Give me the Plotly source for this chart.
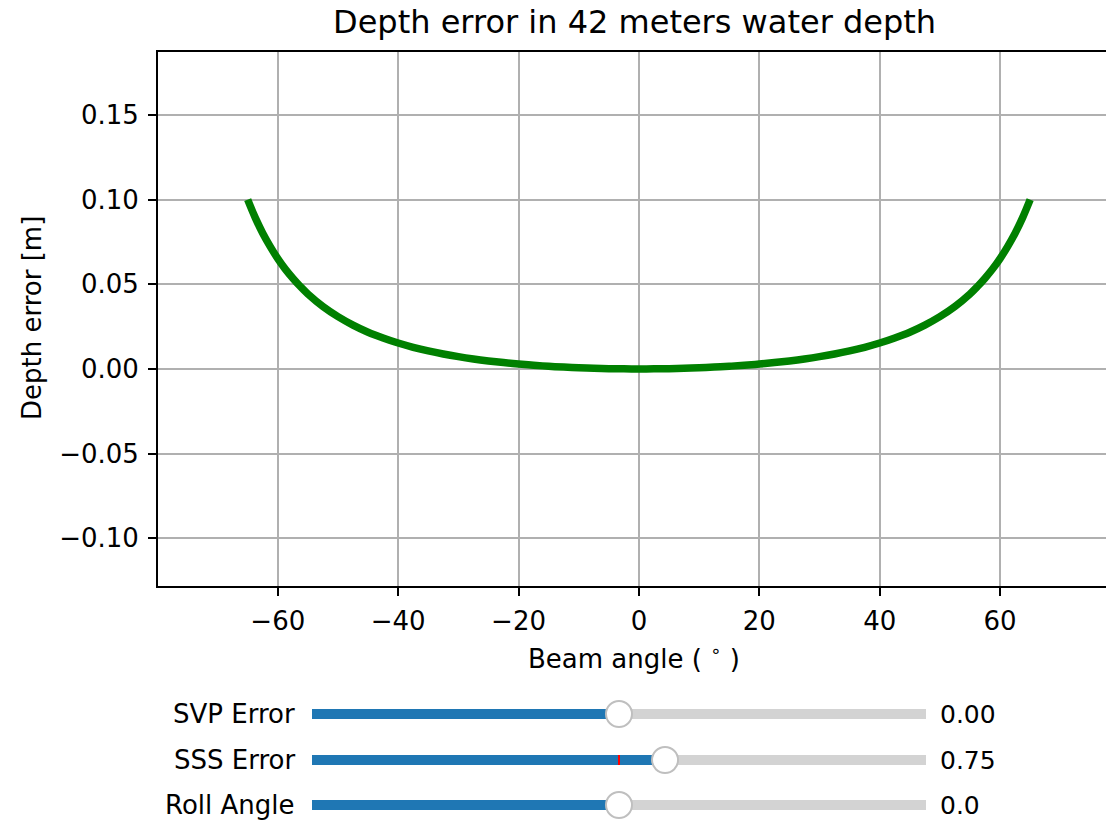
import plotly.graph_objects as go

# ---- data (right half; curve is symmetric about 0) ----
half_angle = [0, 2.5, 5, 7.5, 10, 12.5, 15, 17.5, 20, 22.5, 25, 27.5, 30, 32.5, 35, 37.5,
              40, 42.5, 45, 47.5, 50, 52.5, 55, 56.25, 57.5, 58.75, 60, 61.25, 62.5, 63.75, 65]
half_error = [0.0, 0.00004, 0.00017, 0.00038, 0.00068, 0.00107, 0.00156, 0.00216, 0.00288, 0.00373,
              0.00473, 0.00589, 0.00725, 0.00882, 0.01066, 0.0128, 0.0153, 0.0183, 0.0217, 0.0259,
              0.0309, 0.0369, 0.0443, 0.0487, 0.0536, 0.0590, 0.0652, 0.0723, 0.0802, 0.0894, 0.100]
beam_angle = [-a for a in half_angle[:0:-1]] + half_angle
depth_error = half_error[:0:-1] + half_error

x_tickvals = [-60, -40, -20, 0, 20, 40, 60]
x_ticktext = ["\u221260", "\u221240", "\u221220", "0", "20", "40", "60"]
y_tickvals = [-0.10, -0.05, 0.0, 0.05, 0.10, 0.15]
y_ticktext = ["\u22120.10", "\u22120.05", "0.00", "0.05", "0.10", "0.15"]

title_text = "Depth error in 42 meters water depth"
xlabel_text = "Beam angle ( <sup>\u2218</sup> )"
ylabel_text = "Depth error [m]"

slider_labels = ["SVP Error", "SSS Error", "Roll Angle"]
slider_min = [-5.0, -5.0, -5.0]
slider_max = [5.0, 5.0, 5.0]
slider_value = [0.0, 0.75, 0.0]
slider_init = [0.0, 0.0, 0.0]
slider_text = ["0.00", "0.75", "0.0"]

# ---- layout geometry (pixels) ----
W, H = 1106, 822
FONT = "DejaVu Sans"
ax_left, ax_top, ax_bottom = 158, 52, 586
track_left, track_right = 312, 926
slider_centers = [714, 760, 805]
HALF = 16  # half height (px) of each slider's axis box

def py(p):
    return 1 - p / H

fig = go.Figure()

fig.add_trace(go.Scatter(
    x=beam_angle, y=depth_error, mode="lines",
    line=dict(color="#008000", width=7.5, shape="spline", smoothing=1.0),
    xaxis="x", yaxis="y", showlegend=False, hoverinfo="skip"))

layout = dict(
    width=W, height=H,
    margin=dict(l=0, r=0, t=0, b=0),
    paper_bgcolor="white", plot_bgcolor="white",
    barmode="overlay",
    showlegend=False,
    font=dict(family=FONT, color="black"),
    xaxis=dict(domain=[ax_left / W, 1.0], range=[-79.9, 77.6], anchor="y",
               tickvals=x_tickvals, ticktext=x_ticktext,
               showline=True, linecolor="black", linewidth=1.9, mirror=True,
               ticks="outside", ticklen=8, tickwidth=1.9, tickcolor="black",
               showgrid=True, gridcolor="#b0b0b0", gridwidth=1.9, zeroline=False,
               tickfont=dict(family=FONT, size=26, color="black"), ticklabelstandoff=3),
    yaxis=dict(domain=[py(ax_bottom), py(ax_top)], range=[-0.1283, 0.1873], anchor="x",
               tickvals=y_tickvals, ticktext=y_ticktext,
               showline=True, linecolor="black", linewidth=1.9, mirror=False,
               ticks="outside", ticklen=8, tickwidth=1.9, tickcolor="black",
               showgrid=True, gridcolor="#b0b0b0", gridwidth=1.9, zeroline=False,
               tickfont=dict(family=FONT, size=26, color="black"), ticklabelstandoff=4),
)

annotations = [
    dict(text=title_text, x=634.5 / W, y=py(22), xref="paper", yref="paper",
         xanchor="center", yanchor="middle", showarrow=False,
         font=dict(family=FONT, size=32, color="black")),
    dict(text=xlabel_text, x=634 / W, y=py(657), xref="paper", yref="paper",
         xanchor="center", yanchor="middle", showarrow=False,
         font=dict(family=FONT, size=26, color="black")),
    dict(text=ylabel_text, x=32 / W, y=py(318), xref="paper", yref="paper",
         xanchor="center", yanchor="middle", showarrow=False, textangle=-90,
         font=dict(family=FONT, size=26, color="black")),
]

bar_w = 10 / HALF  # 10 px track thickness in y units (range -1..1 over 2*HALF px)

for i, c in enumerate(slider_centers):
    n = i + 2
    xa, ya = f"x{n}", f"y{n}"
    layout[f"xaxis{n}"] = dict(domain=[track_left / W, track_right / W],
                               range=[slider_min[i], slider_max[i]],
                               anchor=ya, visible=False, fixedrange=True)
    layout[f"yaxis{n}"] = dict(domain=[py(c + HALF), py(c - HALF)], range=[-1, 1],
                               anchor=xa, visible=False, fixedrange=True)
    # track (full range)
    fig.add_trace(go.Bar(orientation="h", y=[0], x=[slider_max[i] - slider_min[i]],
                         base=[slider_min[i]], width=bar_w,
                         marker=dict(color="#d3d3d3", line=dict(width=0)),
                         xaxis=xa, yaxis=ya, hoverinfo="skip"))
    # filled part up to value
    fig.add_trace(go.Bar(orientation="h", y=[0], x=[slider_value[i] - slider_min[i]],
                         base=[slider_min[i]], width=bar_w,
                         marker=dict(color="#1f77b4", line=dict(width=0)),
                         xaxis=xa, yaxis=ya, hoverinfo="skip"))
    # initial value marker
    fig.add_trace(go.Scatter(x=[slider_init[i], slider_init[i]], y=[-bar_w / 2, bar_w / 2],
                             mode="lines", line=dict(color="red", width=2),
                             xaxis=xa, yaxis=ya, hoverinfo="skip"))
    # handle
    fig.add_trace(go.Scatter(x=[slider_value[i]], y=[0], mode="markers",
                             marker=dict(symbol="circle", size=26, color="white",
                                         line=dict(color="#bfbfbf", width=2)),
                             cliponaxis=False, xaxis=xa, yaxis=ya, hoverinfo="skip"))
    annotations.append(dict(text=slider_labels[i], x=297 / W, y=py(c), xref="paper", yref="paper",
                            xanchor="right", yanchor="middle", showarrow=False,
                            font=dict(family=FONT, size=26, color="black")))
    annotations.append(dict(text=slider_text[i], x=938 / W, y=py(c), xref="paper", yref="paper",
                            xanchor="left", yanchor="middle", showarrow=False,
                            font=dict(family=FONT, size=25, color="black")))

layout["annotations"] = annotations
fig.update_layout(**layout)
fig.write_html("out.html")
